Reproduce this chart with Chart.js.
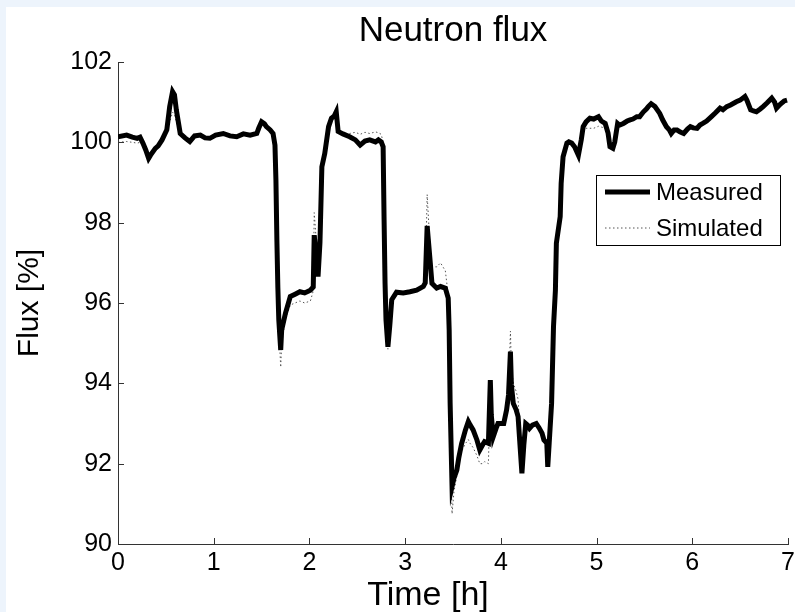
<!DOCTYPE html>
<html>
<head>
<meta charset="utf-8">
<script src="https://cdn.jsdelivr.net/npm/chart.js@4.4.1/dist/chart.umd.min.js"></script>
<style>
  html, body { margin: 0; padding: 0; background: #edf4fc; }
  #wrap { position: absolute; left: 6px; top: 7px; width: 789px; height: 605px; background: #fff; }
</style>
</head>
<body>
<div id="wrap"><canvas id="fluxChart" width="789" height="605"></canvas></div>
<script>
// Tempo em horas
const horas = [
  0.00, 0.09, 0.15, 0.20, 0.23, 0.26, 0.29, 0.32, 0.34, 0.39, 0.42, 0.46, 0.51, 0.54, 0.57, 0.59,
  0.61, 0.65, 0.70, 0.75, 0.80, 0.86, 0.91, 0.96, 1.02, 1.10, 1.17, 1.24, 1.31, 1.38, 1.45, 1.47,
  1.50, 1.53, 1.55, 1.59, 1.62, 1.64, 1.65, 1.66, 1.67, 1.68, 1.70, 1.71, 1.75, 1.80, 1.85, 1.90,
  1.95, 2.01, 2.04, 2.05, 2.07, 2.09, 2.11, 2.13, 2.16, 2.20, 2.23, 2.26, 2.28, 2.30, 2.35, 2.42,
  2.48, 2.53, 2.58, 2.63, 2.69, 2.72, 2.75, 2.77, 2.78, 2.79, 2.80, 2.82, 2.84, 2.86, 2.91, 2.98,
  3.05, 3.12, 3.19, 3.21, 3.23, 3.26, 3.28, 3.33, 3.37, 3.42, 3.45, 3.46, 3.47, 3.49, 3.51, 3.54,
  3.56, 3.59, 3.63, 3.66, 3.68, 3.71, 3.75, 3.78, 3.81, 3.83, 3.87, 3.89, 3.90, 3.92, 3.95, 3.97,
  4.03, 4.06, 4.08, 4.10, 4.11, 4.13, 4.16, 4.18, 4.20, 4.22, 4.24, 4.26, 4.28, 4.30, 4.33, 4.37,
  4.40, 4.43, 4.45, 4.48, 4.49, 4.51, 4.53, 4.55, 4.57, 4.58, 4.62, 4.63, 4.65, 4.69, 4.71, 4.74,
  4.77, 4.81, 4.84, 4.86, 4.89, 4.93, 4.97, 5.02, 5.05, 5.09, 5.12, 5.14, 5.17, 5.19, 5.22, 5.24,
  5.28, 5.32, 5.35, 5.38, 5.42, 5.45, 5.49, 5.52, 5.54, 5.57, 5.61, 5.66, 5.69, 5.73, 5.76, 5.78,
  5.81, 5.84, 5.87, 5.91, 5.95, 5.98, 6.01, 6.05, 6.08, 6.11, 6.15, 6.20, 6.24, 6.29, 6.32, 6.36,
  6.40, 6.46, 6.50, 6.55, 6.57, 6.61, 6.64, 6.67, 6.71, 6.74, 6.78, 6.83, 6.86, 6.88, 6.91, 6.93,
  6.96, 6.99
];

// Fluxo medido [%]
const medido = [
  100.14, 100.18, 100.13, 100.10, 100.13, 99.98, 99.81, 99.60, 99.68, 99.85, 99.91, 100.06, 100.31, 100.89, 101.26, 101.18,
  100.80, 100.22, 100.11, 100.02, 100.16, 100.18, 100.11, 100.10, 100.18, 100.22, 100.16, 100.14, 100.21, 100.18, 100.22, 100.35,
  100.51, 100.46, 100.39, 100.31, 100.22, 99.93, 99.06, 97.57, 96.40, 95.58, 94.83, 95.33, 95.75, 96.16, 96.22, 96.28,
  96.25, 96.32, 96.40, 97.69, 97.20, 96.66, 97.50, 99.39, 99.72, 100.39, 100.60, 100.66, 100.76, 100.27, 100.21, 100.14,
  100.06, 99.93, 100.03, 100.06, 100.01, 100.06, 100.01, 99.89, 98.07, 96.50, 95.58, 94.91, 95.45, 96.08, 96.27, 96.25,
  96.28, 96.32, 96.41, 96.50, 97.92, 97.07, 96.49, 96.37, 96.41, 96.37, 96.12, 95.33, 93.51, 91.43, 91.64, 91.84,
  92.14, 92.50, 92.84, 93.05, 92.96, 92.84, 92.59, 92.34, 92.47, 92.55, 92.51, 94.08, 93.21, 92.67, 92.88, 93.00,
  93.00, 93.34, 93.71, 94.79, 93.96, 93.50, 93.34, 93.17, 92.46, 91.76, 92.46, 93.00, 92.96, 92.88, 92.96, 93.00,
  92.89, 92.76, 92.59, 92.51, 91.92, 92.71, 93.50, 95.41, 96.32, 97.49, 98.15, 98.98, 99.64, 99.98, 100.01, 99.98,
  99.89, 99.68, 100.06, 100.39, 100.51, 100.60, 100.58, 100.64, 100.53, 100.47, 100.23, 99.89, 99.85, 100.01, 100.47, 100.43,
  100.47, 100.53, 100.56, 100.58, 100.64, 100.64, 100.76, 100.83, 100.89, 100.96, 100.89, 100.72, 100.56, 100.39, 100.31, 100.22,
  100.31, 100.31, 100.26, 100.22, 100.33, 100.39, 100.36, 100.35, 100.43, 100.47, 100.53, 100.64, 100.73, 100.85, 100.81, 100.89,
  100.93, 101.01, 101.05, 101.14, 101.05, 100.81, 100.78, 100.76, 100.83, 100.89, 100.98, 101.10, 101.00, 100.85, 100.93, 100.97,
  101.03, 101.05
];

// Fluxo simulado [%]
const simulado = [
  100.00, 100.02, 100.00, 99.98, 100.00, 99.93, 99.81, 99.62, 99.68, 99.85, 99.91, 100.04, 100.25, 100.50, 100.75, 100.70,
  100.50, 100.15, 100.11, 100.04, 100.14, 100.16, 100.11, 100.10, 100.16, 100.20, 100.16, 100.14, 100.19, 100.18, 100.20, 100.30,
  100.45, 100.42, 100.36, 100.30, 100.22, 99.93, 99.06, 97.00, 96.60, 95.40, 94.40, 95.00, 95.60, 95.95, 96.00, 96.05,
  96.00, 96.05, 96.30, 98.25, 97.60, 96.80, 97.40, 99.30, 99.70, 100.35, 100.55, 100.62, 100.70, 100.25, 100.22, 100.22,
  100.25, 100.20, 100.25, 100.22, 100.26, 100.24, 100.20, 100.00, 97.80, 96.90, 95.60, 94.85, 95.40, 96.05, 96.27, 96.25,
  96.30, 96.32, 96.40, 96.55, 98.70, 97.40, 96.90, 96.90, 97.00, 96.80, 96.20, 95.50, 93.00, 90.75, 91.30, 91.70,
  92.00, 92.30, 92.50, 92.60, 92.50, 92.40, 92.20, 92.00, 92.00, 92.05, 92.00, 94.00, 93.20, 92.60, 92.85, 93.00,
  93.00, 93.30, 93.80, 95.30, 94.40, 94.00, 93.80, 93.60, 92.80, 92.00, 92.40, 92.95, 92.95, 92.88, 92.96, 92.98,
  92.89, 92.76, 92.59, 92.45, 92.00, 92.70, 93.50, 95.90, 96.50, 97.30, 98.30, 98.90, 99.75, 99.95, 100.00, 99.98,
  99.89, 99.70, 100.02, 100.30, 100.35, 100.35, 100.35, 100.40, 100.38, 100.35, 100.20, 99.90, 99.85, 100.01, 100.42, 100.40,
  100.45, 100.50, 100.53, 100.56, 100.62, 100.62, 100.72, 100.80, 100.86, 100.92, 100.87, 100.70, 100.55, 100.38, 100.30, 100.22,
  100.30, 100.30, 100.25, 100.22, 100.32, 100.37, 100.35, 100.34, 100.42, 100.45, 100.51, 100.62, 100.71, 100.83, 100.80, 100.87,
  100.91, 100.99, 101.03, 101.12, 101.03, 100.80, 100.77, 100.75, 100.82, 100.87, 100.96, 101.08, 100.99, 100.85, 100.92, 100.95,
  101.01, 101.03
];

const ticksY = [90, 92, 94, 96, 98, 100, 102];
const ticksX = [0, 1, 2, 3, 4, 5, 6, 7];

const fonte = "'Liberation Sans', Arial, sans-serif";

// Marcas para dentro, estilo MATLAB, e rótulo do eixo x
const marcasInternas = {
  id: 'marcasInternas',
  afterDraw(chart) {
    const { ctx, chartArea: a, scales } = chart;
    ctx.save();
    ctx.strokeStyle = '#333';
    ctx.lineWidth = 1;
    ctx.beginPath();
    ticksY.forEach(v => {
      const y = Math.round(scales.y.getPixelForValue(v)) + 0.5;
      ctx.moveTo(a.left, y); ctx.lineTo(a.left + 6, y);
    });
    ticksX.forEach(v => {
      const x = Math.round(scales.x.getPixelForValue(v)) + 0.5;
      ctx.moveTo(x, a.bottom); ctx.lineTo(x, a.bottom - 6);
    });
    ctx.stroke();
    // título do eixo x (levemente à esquerda, como no original)
    ctx.fillStyle = '#000';
    ctx.font = "34px " + fonte;
    ctx.textAlign = 'center';
    ctx.textBaseline = 'middle';
    ctx.fillText('Time [h]', (a.left + a.right) / 2 - 25, chart.height - 16);
    ctx.restore();
  }
};

// Legenda dentro do gráfico
const legendaCaixa = {
  id: 'legendaCaixa',
  afterDraw(chart) {
    const { ctx } = chart;
    const left = 590, top = 168, w = 184, h = 70;
    ctx.save();
    ctx.fillStyle = '#fff';
    ctx.fillRect(left, top, w, h);
    ctx.strokeStyle = '#000';
    ctx.lineWidth = 1;
    ctx.strokeRect(left + 0.5, top + 0.5, w, h);
    ctx.font = "24px " + fonte;
    ctx.textBaseline = 'middle';
    chart.data.datasets.forEach((ds, i) => {
      const y = top + 17 + i * 36;
      ctx.beginPath();
      ctx.strokeStyle = ds.borderColor;
      ctx.lineWidth = ds.borderWidth;
      ctx.setLineDash(ds.borderDash || []);
      ctx.moveTo(left + 9, y); ctx.lineTo(left + 54, y);
      ctx.stroke();
      ctx.setLineDash([]);
      ctx.fillStyle = '#000';
      ctx.fillText(ds.label, left + 60, y + 1);
    });
    ctx.restore();
  }
};

const ctx = document.getElementById('fluxChart').getContext('2d');
new Chart(ctx, {
  type: 'line',
  data: {
    datasets: [
      {
        label: 'Measured',
        data: horas.map((t, i) => ({ x: t, y: medido[i] })),
        borderColor: '#000',
        borderWidth: 5,
        pointRadius: 0,
        tension: 0,
        order: 1
      },
      {
        label: 'Simulated',
        data: horas.map((t, i) => ({ x: t, y: simulado[i] })),
        borderColor: '#555',
        borderWidth: 1,
        borderDash: [1.5, 2.5],
        pointRadius: 0,
        tension: 0,
        order: 2
      }
    ]
  },
  options: {
    responsive: false,
    animation: false,
    layout: { padding: { left: 0, right: 7, top: 0, bottom: 0 } },
    plugins: {
      legend: { display: false },
      tooltip: { enabled: false },
      title: {
        display: true,
        fullSize: false,
        text: 'Neutron flux',
        color: '#000',
        font: { family: fonte, size: 35, weight: 'normal', lineHeight: 1.2 },
        padding: { top: 3, bottom: 10 }
      }
    },
    scales: {
      x: {
        type: 'linear',
        min: 0, max: 7,
        afterFit: s => { s.height = 68; s.paddingRight = 0; s.paddingLeft = 0; },
        afterBuildTicks: s => { s.ticks = ticksX.map(v => ({ value: v })); },
        grid: { display: false, drawTicks: false },
        border: { display: true, color: '#333', width: 1 },
        ticks: { color: '#000', padding: 4, maxRotation: 0, font: { family: fonte, size: 25 } },
        title: { display: false }
      },
      y: {
        min: 90, max: 102,
        afterFit: s => { s.width = 112; },
        afterBuildTicks: s => { s.ticks = ticksY.map(v => ({ value: v })); },
        grid: { display: false, drawTicks: false },
        border: { display: true, color: '#333', width: 1 },
        ticks: { color: '#000', padding: 6, font: { family: fonte, size: 25 } },
        title: {
          display: true, text: 'Flux [%]', color: '#000',
          font: { family: fonte, size: 30, lineHeight: 1.2 },
          padding: { top: 6, bottom: 0 }
        }
      }
    }
  },
  plugins: [marcasInternas, legendaCaixa]
});
</script>
</body>
</html>
